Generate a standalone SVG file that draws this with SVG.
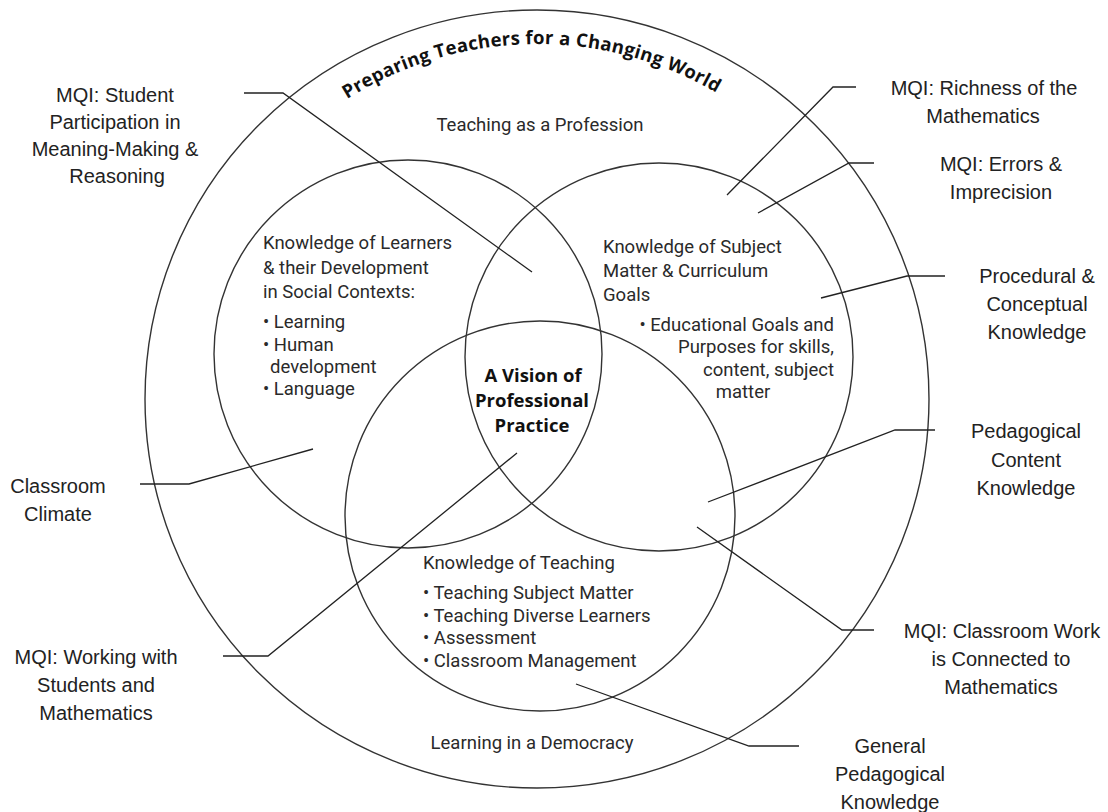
<svg xmlns="http://www.w3.org/2000/svg" width="1108" height="812" viewBox="0 0 1108 812">
  <style>
    .ring { fill: none; stroke: #333; stroke-width: 1.4; }
    .conn { fill: none; stroke: #222; stroke-width: 1.3; }
    .lbl { font-family: "Liberation Sans", Arial, sans-serif; font-size: 20px; fill: #222; text-anchor: middle; }
    .in { font-family: Roboto, "Open Sans", sans-serif; font-size: 18.5px; fill: #2a2a2a; }
    .bold { font-family: "Open Sans", "Noto Sans", sans-serif; font-size: 18.5px; font-weight: bold; fill: #111; text-anchor: middle; }
  </style>
  <defs>
    <path id="arcPath" d="M 229.6 221.5 A 355 355 0 0 1 844.4 221.5"/>
  </defs>
  <rect width="1108" height="812" fill="#ffffff"/>

  <g id="outer">
    <ellipse class="ring" cx="537" cy="399" rx="392" ry="389"/>
    <text class="bold" letter-spacing="0.3"><textPath href="#arcPath" startOffset="49.2%" text-anchor="middle">Preparing Teachers for a Changing World</textPath></text>
    <text class="in" x="540" y="131" text-anchor="middle">Teaching as a Profession</text>
    <text class="in" x="532" y="749" text-anchor="middle">Learning in a Democracy</text>
  </g>

  <g id="learners">
    <circle class="ring" cx="408" cy="354" r="194"/>
    <text class="in" x="263" y="249">Knowledge of Learners</text>
    <text class="in" x="263" y="274">&amp; their Development</text>
    <text class="in" x="263" y="298">in Social Contexts:</text>
    <text class="in" x="263" y="328">• Learning</text>
    <text class="in" x="263" y="351">• Human</text>
    <text class="in" x="270" y="373">development</text>
    <text class="in" x="263" y="395">• Language</text>
  </g>

  <g id="subject">
    <circle class="ring" cx="659" cy="357" r="194"/>
    <text class="in" x="603" y="253">Knowledge of Subject</text>
    <text class="in" x="603" y="277">Matter &amp; Curriculum</text>
    <text class="in" x="603" y="301">Goals</text>
    <text class="in" x="834" y="331" text-anchor="end">• Educational Goals and</text>
    <text class="in" x="834" y="353" text-anchor="end">Purposes for skills,</text>
    <text class="in" x="834" y="376" text-anchor="end">content, subject</text>
    <text class="in" x="743" y="398" text-anchor="middle">matter</text>
  </g>

  <g id="teaching">
    <circle class="ring" cx="540" cy="516" r="195"/>
    <text class="in" x="423" y="569">Knowledge of Teaching</text>
    <text class="in" x="423" y="599">• Teaching Subject Matter</text>
    <text class="in" x="423" y="622">• Teaching Diverse Learners</text>
    <text class="in" x="423" y="644">• Assessment</text>
    <text class="in" x="423" y="667">• Classroom Management</text>
  </g>

  <g id="vision">
    <text class="bold" x="533" y="382">A Vision of</text>
    <text class="bold" x="532" y="407">Professional</text>
    <text class="bold" x="532" y="432">Practice</text>
  </g>

  <g id="connectors">
    <path class="conn" d="M244 93 H283 L532 272"/>
    <path class="conn" d="M140 484 H189 L313 449"/>
    <path class="conn" d="M223 656 H268 L517 453"/>
    <path class="conn" d="M856 87 H833 L727 195"/>
    <path class="conn" d="M874 163 H849 L758 213"/>
    <path class="conn" d="M945 276 H907 L821 298"/>
    <path class="conn" d="M935 430 H895 L708 502"/>
    <path class="conn" d="M874 630 H842 L697 527"/>
    <path class="conn" d="M799 746 H749 L576 684"/>
  </g>

  <g id="label-student">
    <text class="lbl" x="115" y="102">MQI: Student</text>
    <text class="lbl" x="115" y="129">Participation in</text>
    <text class="lbl" x="115" y="156">Meaning-Making &amp;</text>
    <text class="lbl" x="117" y="183">Reasoning</text>
  </g>
  <g id="label-climate">
    <text class="lbl" x="58" y="493">Classroom</text>
    <text class="lbl" x="58" y="521">Climate</text>
  </g>
  <g id="label-working">
    <text class="lbl" x="96" y="664">MQI: Working with</text>
    <text class="lbl" x="96" y="692">Students and</text>
    <text class="lbl" x="96" y="720">Mathematics</text>
  </g>
  <g id="label-richness">
    <text class="lbl" x="984" y="95">MQI: Richness of the</text>
    <text class="lbl" x="983" y="123">Mathematics</text>
  </g>
  <g id="label-errors">
    <text class="lbl" x="1001" y="171">MQI: Errors &amp;</text>
    <text class="lbl" x="1001" y="199">Imprecision</text>
  </g>
  <g id="label-procedural">
    <text class="lbl" x="1037" y="283">Procedural &amp;</text>
    <text class="lbl" x="1037" y="311">Conceptual</text>
    <text class="lbl" x="1037" y="339">Knowledge</text>
  </g>
  <g id="label-pck">
    <text class="lbl" x="1026" y="438">Pedagogical</text>
    <text class="lbl" x="1026" y="467">Content</text>
    <text class="lbl" x="1026" y="495">Knowledge</text>
  </g>
  <g id="label-work">
    <text class="lbl" x="1002" y="638">MQI: Classroom Work</text>
    <text class="lbl" x="1001" y="666">is Connected to</text>
    <text class="lbl" x="1001" y="694">Mathematics</text>
  </g>
  <g id="label-gpk">
    <text class="lbl" x="890" y="753">General</text>
    <text class="lbl" x="890" y="781">Pedagogical</text>
    <text class="lbl" x="890" y="809">Knowledge</text>
  </g>
</svg>
